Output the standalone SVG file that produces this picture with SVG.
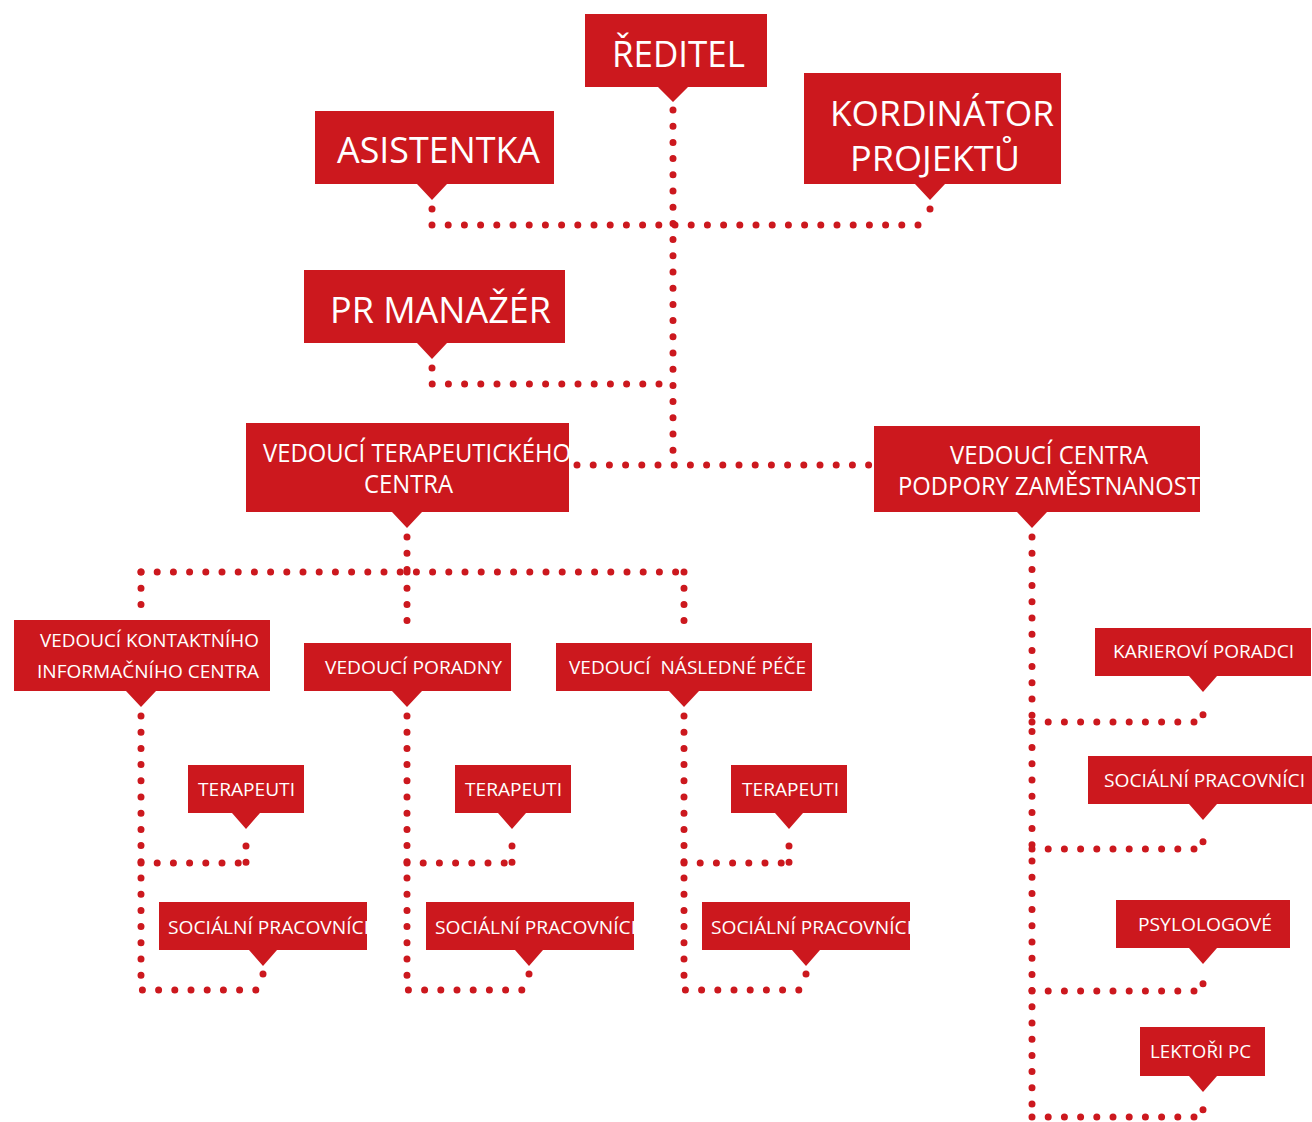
<svg xmlns="http://www.w3.org/2000/svg" width="1312" height="1122" viewBox="0 0 1312 1122">
<style>
.box{fill:#cc181e}
.t{fill:#ffffff;font-family:"Open Sans","Noto Sans",sans-serif;white-space:pre}
.b{font-size:37px}
.k{font-size:35px}
.m{font-size:25px}
.s{font-size:19px}
.c{fill:none;stroke:#cc181e;stroke-width:7;stroke-linecap:round;stroke-dasharray:0 16.2}
</style>
<rect width="1312" height="1122" fill="#ffffff"/>
<g id="connectors">
<path class="c" d="M673 110 V465"/>
<path class="c" d="M432 225 H930"/>
<path class="c" d="M432 209 V225"/>
<path class="c" d="M930 209 V225"/>
<path class="c" d="M432 368 V384 H673"/>
<path class="c" d="M577 465 H870"/>
<path class="c" d="M407 537 V572"/>
<path class="c" d="M141 572 H684"/>
<path class="c" d="M141 572 V612"/>
<path class="c" d="M407 572 V636"/>
<path class="c" d="M684 572 V636"/>
<path class="c" d="M141 716 V990 H263"/>
<path class="c" d="M141 863 H246"/>
<path class="c" d="M246 846 V863"/>
<path class="c" d="M263 974 V990"/>
<path class="c" d="M407 716 V990 H529"/>
<path class="c" d="M407 863 H512"/>
<path class="c" d="M512 846 V863"/>
<path class="c" d="M529 974 V990"/>
<path class="c" d="M684 716 V990 H806"/>
<path class="c" d="M684 863 H789"/>
<path class="c" d="M789 846 V863"/>
<path class="c" d="M806 974 V990"/>
<path class="c" d="M1032 537 V1117"/>
<path class="c" d="M1032 722 H1203 V706"/>
<path class="c" d="M1032 849 H1203 V833"/>
<path class="c" d="M1032 991 H1203 V975"/>
<path class="c" d="M1032 1117 H1203 V1101"/>
</g>
<g id="reditel">
<path class="box" d="M585 14 H767 V87 H688 L673 102 L658 87 H585 Z"/>
<text class="t b" x="612" y="67" textLength="133" lengthAdjust="spacingAndGlyphs">ŘEDITEL</text>
</g>
<g id="asistentka">
<path class="box" d="M315 111 H554 V184 H447 L432 200 L417 184 H315 Z"/>
<text class="t b" x="337" y="163" textLength="203" lengthAdjust="spacingAndGlyphs">ASISTENTKA</text>
</g>
<g id="kordinator">
<path class="box" d="M804 73 H1061 V184 H945 L930 200 L915 184 H804 Z"/>
<text class="t k" x="830" y="126" textLength="224" lengthAdjust="spacingAndGlyphs">KORDINÁTOR</text>
<text class="t k" x="850" y="171" textLength="170" lengthAdjust="spacingAndGlyphs">PROJEKTŮ</text>
</g>
<g id="pr-manazer">
<path class="box" d="M304 270 H565 V343 H447 L432 359 L417 343 H304 Z"/>
<text class="t b" x="330" y="323" textLength="221" lengthAdjust="spacingAndGlyphs">PR MANAŽÉR</text>
</g>
<g id="vedouci-terapeutickeho">
<path class="box" d="M246 423 H569 V512 H422 L407 528 L392 512 H246 Z"/>
<text class="t m" x="263" y="462" textLength="308" lengthAdjust="spacingAndGlyphs">VEDOUCÍ TERAPEUTICKÉHO</text>
<text class="t m" x="364" y="493" textLength="89" lengthAdjust="spacingAndGlyphs">CENTRA</text>
</g>
<g id="vedouci-centra-podpory">
<path class="box" d="M874 426 H1200 V512 H1047 L1032 528 L1017 512 H874 Z"/>
<text class="t m" x="950" y="464" textLength="198" lengthAdjust="spacingAndGlyphs">VEDOUCÍ CENTRA</text>
<text class="t m" x="898" y="495" textLength="302" lengthAdjust="spacingAndGlyphs">PODPORY ZAMĚSTNANOST</text>
</g>
<g id="vedouci-kontaktniho">
<path class="box" d="M14 620 H270 V691 H156 L141 707 L126 691 H14 Z"/>
<text class="t s" x="40" y="647" textLength="219" lengthAdjust="spacingAndGlyphs">VEDOUCÍ KONTAKTNÍHO</text>
<text class="t s" x="37" y="678" textLength="222" lengthAdjust="spacingAndGlyphs">INFORMAČNÍHO CENTRA</text>
</g>
<g id="vedouci-poradny">
<path class="box" d="M304 643 H511 V691 H422 L407 707 L392 691 H304 Z"/>
<text class="t s" x="325" y="674" textLength="177" lengthAdjust="spacingAndGlyphs">VEDOUCÍ PORADNY</text>
</g>
<g id="vedouci-nasledne-pece">
<path class="box" d="M556 643 H812 V691 H699 L684 707 L669 691 H556 Z"/>
<text class="t s" x="569" y="674" textLength="237" lengthAdjust="spacingAndGlyphs">VEDOUCÍ  NÁSLEDNÉ PÉČE</text>
</g>
<g id="terapeuti-1">
<path class="box" d="M188 765 H304 V813 H260 L246 829 L232 813 H188 Z"/>
<text class="t s" x="198" y="796" textLength="97" lengthAdjust="spacingAndGlyphs">TERAPEUTI</text>
</g>
<g id="socialni-1">
<path class="box" d="M159 902 H367 V950 H277 L263 966 L249 950 H159 Z"/>
<text class="t s" x="168" y="934" textLength="201" lengthAdjust="spacingAndGlyphs">SOCIÁLNÍ PRACOVNÍCI</text>
</g>
<g id="terapeuti-2">
<path class="box" d="M455 765 H571 V813 H526 L512 829 L498 813 H455 Z"/>
<text class="t s" x="465" y="796" textLength="97" lengthAdjust="spacingAndGlyphs">TERAPEUTI</text>
</g>
<g id="socialni-2">
<path class="box" d="M426 902 H634 V950 H543 L529 966 L515 950 H426 Z"/>
<text class="t s" x="435" y="934" textLength="201" lengthAdjust="spacingAndGlyphs">SOCIÁLNÍ PRACOVNÍCI</text>
</g>
<g id="terapeuti-3">
<path class="box" d="M731 765 H847 V813 H803 L789 829 L775 813 H731 Z"/>
<text class="t s" x="742" y="796" textLength="97" lengthAdjust="spacingAndGlyphs">TERAPEUTI</text>
</g>
<g id="socialni-3">
<path class="box" d="M702 902 H910 V950 H820 L806 966 L792 950 H702 Z"/>
<text class="t s" x="711" y="934" textLength="201" lengthAdjust="spacingAndGlyphs">SOCIÁLNÍ PRACOVNÍCI</text>
</g>
<g id="karierovi-poradci">
<path class="box" d="M1095 628 H1311 V676 H1217 L1203 692 L1189 676 H1095 Z"/>
<text class="t s" x="1113" y="658" textLength="181" lengthAdjust="spacingAndGlyphs">KARIEROVÍ PORADCI</text>
</g>
<g id="socialni-4">
<path class="box" d="M1088 756 H1312 V804 H1217 L1203 820 L1189 804 H1088 Z"/>
<text class="t s" x="1104" y="787" textLength="201" lengthAdjust="spacingAndGlyphs">SOCIÁLNÍ PRACOVNÍCI</text>
</g>
<g id="psylologove">
<path class="box" d="M1116 900 H1290 V948 H1217 L1203 964 L1189 948 H1116 Z"/>
<text class="t s" x="1138" y="931" textLength="134" lengthAdjust="spacingAndGlyphs">PSYLOLOGOVÉ</text>
</g>
<g id="lektori-pc">
<path class="box" d="M1140 1027 H1265 V1076 H1217 L1203 1092 L1189 1076 H1140 Z"/>
<text class="t s" x="1150" y="1058" textLength="101" lengthAdjust="spacingAndGlyphs">LEKTOŘI PC</text>
</g>
</svg>
